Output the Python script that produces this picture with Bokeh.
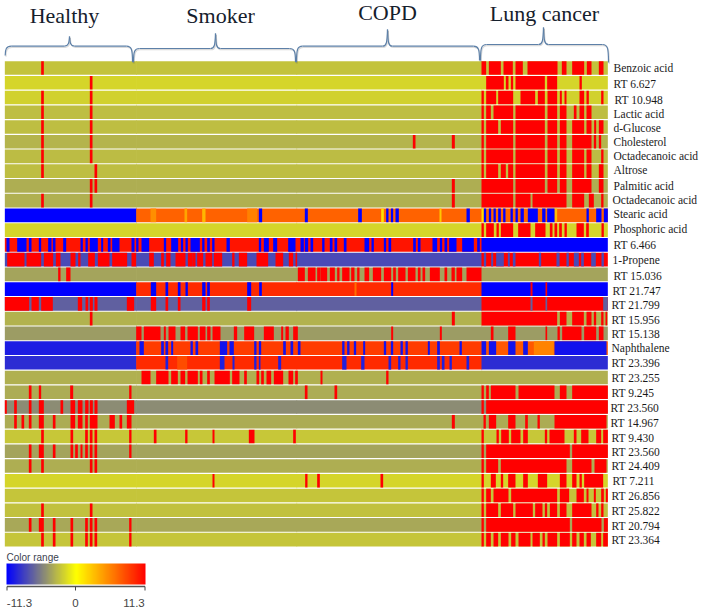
from bokeh.plotting import figure
from bokeh.models import (ColumnDataSource, LinearColorMapper, ColorBar, FixedTicker, Range1d)
from bokeh.embed import file_html
from bokeh.resources import INLINE
from bokeh.core.properties import value

# ---------- data ----------
row_labels = ["Benzoic acid","RT 6.627","RT 10.948","Lactic acid","d-Glucose","Cholesterol",
 "Octadecanoic acid","Altrose","Palmitic acid","Octadecanoic acid","Stearic acid","Phosphoric acid",
 "RT 6.466","1-Propene","RT 15.036","RT 21.747","RT 21.799","RT 15.956","RT 15.138","Naphthalene",
 "RT 23.396","RT 23.255","RT 9.245","RT 23.560","RT 14.967","RT 9.430","RT 23.560","RT 24.409",
 "RT 7.211","RT 26.856","RT 25.822","RT 20.794","RT 23.364"]
group_names = ["Healthy","Smoker","COPD","Lung cancer"]
# group limits along the sample axis
group_edges = [13, 407, 888, 1443, 1822]
# level of each row in each group
row_base = [[-2.6]*4,[-1.8]*4,[-2.0]*4,[-2.9]*4,[-2.9]*4,[-3.3]*4,[-3.0]*4,[-2.9]*4,[-3.6]*4,[-3.5]*4,
 [-11.3,7.0,7.0,7.0],[-1.8]*4,[10.5,10.5,10.5,-11.3],[-8,-8,-8,11.3],[-4.0]*4,
 [-11.3,9.5,9.5,-11.3],[-7,-7,-7,11.3],[-3.4]*4,[-4.4]*4,[-10,8.7,8.7,7.5],
 [-9.3,9.5,9.5,-9.3],[-3.5]*4,[-3.7]*4,[-5.1]*4,[-3.7]*4,[-2.4]*4,[-4.0]*4,[-3.6]*4,[-1.8]*4,
 [-2.5]*4,[-2.7]*4,[-3.8]*4,[-2.5]*4]
# saturated runs, samples on the left half of the axis
hot_a = {0:[(122,130)],1:[(268,276)],2:[(122,130),(268,276)],3:[(122,130),(268,276)],
 4:[(122,130),(268,276)],5:[(122,130),(268,276)],6:[(122,130),(268,276)],7:[(122,130),(282,290)],
 8:[(268,276),(282,290)],9:[(122,130),(268,276)],
 13:[(20,72),(78,122),(130,158),(166,180),(210,225),(233,240),(263,283),(292,327),(335,380),(393,407),
     (446,460),(482,490),(497,510),(525,555),(562,575),(575,585),(590,608),(615,635),(640,665),(695,702),
     (715,740),(768,803),(825,848),(865,878),(885,890)],
 14:[(173,180),(197,210),(892,913),(922,945),(950,960)],
 16:[(13,86),(93,115),(122,157),(232,245),(255,263),(268,277),(282,291),(379,401),(451,467),(495,503),
     (532,540),(605,615),(620,628),(740,752)],
 17:[(268,276)],
 18:[(407,423),(430,480),(490,496),(504,525),(540,554),(561,592),(598,615),(620,630),(636,660),(700,710),
     (731,761),(790,820),(842,848),(855,865),(878,892)],
 21:[(423,450),(467,504),(512,532),(540,554),(561,592),(598,606),(620,628),(642,688),(695,717),(731,739),
     (768,776),(782,790),(798,812),(820,848),(864,878),(884,892)],
 22:[(85,93),(115,122),(209,218),(386,393),(913,921)],
 23:[(13,19),(41,49),(85,93),(115,130),(180,188),(210,224),(232,246),(254,264),(268,277),(282,291),(379,401)],
 24:[(41,49),(63,71),(85,93),(115,130),(157,165),(210,224),(232,246),(254,262),(268,291),(327,343),(357,365),(379,393)],
 25:[(122,130),(210,218),(254,262),(268,276),(282,290),(386,393),(460,468),(554,561),(636,642),(745,762),(878,886)],
 26:[(85,93),(115,130),(157,165),(210,218),(224,232),(240,246),(254,262),(268,276),(282,290),(386,393)],
 27:[(85,93),(122,130),(268,276),(282,290)],
 28:[(636,642),(914,921),(950,958)],
 30:[(122,130),(268,276)],
 31:[(85,93),(115,130),(157,165),(210,218),(254,262),(268,276),(282,290),(386,393)],
 32:[(122,130),(157,165),(210,218),(254,262),(268,276),(282,290),(386,393)]}
# saturated runs, samples on the right half of the axis (counted from its middle)
axis_middle = 960
hot_b = {0:[(483,497),(505,541),(549,577),(585,607),(621,711),(724,738),(755,791),(799,813),(835,849)],
 1:[(497,550),(556,564),(571,578),(585,673),(680,710),(777,784)],
 2:[(483,490),(497,527),(533,578),(600,644),(652,673),(681,710),(718,724),(732,738),(777,791),(798,805),(842,849)],
 3:[(483,490),(497,511),(519,578),(585,673),(681,710),(718,738),(760,768),(777,791),(798,813)],
 4:[(483,490),(497,533),(541,578),(585,673),(681,710),(718,738),(755,791),(798,813),(821,827),(835,849)],
 5:[(277,285),(394,403),(483,490),(497,578),(585,673),(681,710),(718,738),(755,813),(820,827),(835,842)],
 6:[(483,490),(497,578),(585,673),(681,710),(718,738),(755,791),(798,813),(842,849)],
 7:[(483,490),(497,533),(541,556),(563,578),(585,673),(681,710),(718,738),(755,791),(798,813),(835,849)],
 8:[(394,403),(483,578),(585,673),(681,710),(718,738),(755,813),(835,849)],
 9:[(394,403),(483,578),(585,630),(636,738),(755,791),(805,820),(842,849)],
 11:[(483,490),(497,520),(528,535),(541,578),(593,630),(644,675),(688,696),(702,710),(716,724),(732,739),(768,790),(797,805),(843,850)],
 14:[(0,20),(28,43),(50,57),(65,87),(92,102),(110,117),(132,146),(157,182),(190,212),(218,226),(233,255),(262,285),
     (292,300),(306,314),(328,358),(372,380),(393,403),(408,425),(438,483)],
 15:[(630,636),(675,680)],
 17:[(394,403),(483,710),(718,738),(755,790),(798,813),(820,827),(842,849),(855,860)],
 18:[(212,218),(358,364),(511,519),(563,585),(675,680),(711,718),(725,783),(791,827),(835,849)],
 21:[(0,6),(197,204)],
 22:[(42,50),(483,490),(497,505),(511,585),(594,702),(718,738),(755,862)],
 23:[(483,490),(497,862)],
 24:[(394,403),(489,496),(505,527),(563,585),(614,622),(651,658),(702,858)],
 25:[(483,490),(528,535),(542,565),(572,600),(608,622),(673,680),(687,732),(760,768),(782,804),(827,842),(848,862)],
 26:[(483,490),(497,748),(755,862)],
 27:[(483,490),(497,533),(541,738),(755,813),(822,858)],
 28:[(180,188),(483,490),(511,526),(541,548),(563,585),(608,622),(652,680),(718,738),(755,768),(777,784),(791,848)],
 29:[(483,490),(497,511),(519,564),(572,710),(718,746),(768,790),(798,804),(820,826),(842,850),(856,862)],
 30:[(483,490),(497,533),(541,578),(585,637),(644,666),(673,680),(688,710),(718,738),(755,813),(827,834),(842,849)],
 31:[(483,490),(497,748),(755,843),(850,862)],
 32:[(483,490),(497,511),(519,533),(541,564),(572,585),(594,630),(636,658),(666,673),(681,710),(718,748),(755,768),(777,790),(798,811),(827,842),(848,862)]}
# low runs, with the level of each row's runs
cold_level = {10:-11.3,12:-11.3,13:-8,15:-11.3,16:-7,19:-10.5,20:-9.8}
cold_a = {10:[(775,785),(913,922)],
 12:[(18,27),(50,78),(85,93),(115,122),(143,153),(157,165),(188,197),(240,247),(255,262),(268,292),(302,308),(322,330),
     (335,357),(393,402),(407,414),(423,446),(490,497),(512,533),(541,548),(555,562),(570,598),(605,612),(620,628),(635,642),
     (678,688),(775,782),(790,805),(818,830),(863,885),(900,910),(913,923),(930,938)],
 15:[(451,467),(495,503),(532,540),(555,562),(605,615),(620,628),(740,752),(776,784)],
 19:[(417,430),(482,490),(495,503),(512,518),(570,577),(585,593),(658,680),(687,700),(761,768),(775,782),(848,856),(870,878),(892,900)],
 20:[(495,503),(658,672),(696,702),(761,768),(775,780),(833,842)]}
cold_b = {10:[(113,124),(197,204),(211,218),(225,235),(438,448),(490,497),(505,512),(519,526),(533,541),(548,555),(570,577),
     (585,592),(600,610),(622,652),(665,675),(680,702),(798,805),(827,843),(850,862)],
 12:[(5,12),(28,36),(42,50),(70,78),(132,146),(153,160),(190,197),(204,212),(278,286),(292,300),(336,350),(358,365),(372,380),
     (386,408),(425,460),(470,478)],
 13:[(490,497),(512,518),(527,550),(562,568),(577,585),(655,662),(708,717),(738,745),(760,775),(782,790),(812,826),(843,850)],
 15:[(212,218)],
 16:[(630,636),(675,680),(848,862)],
 19:[(65,72),(80,87),(100,107),(128,134),(190,197),(211,218),(240,247),(255,262),(322,328),(350,358),(417,424),
     (483,497),(505,527),(563,585),(608,622),(702,858)],
 20:[(65,78),(122,132),(204,212),(233,240),(255,262),(350,358),(364,372),(387,394),(438,446)]}
# lighter stripes: row, from, to, level
warm_stripes = [(10,450,467,5.0),(10,552,560,4.0),(10,605,615,3.2),(10,740,770,5.6),
 (10,1142,1150,1.5),(10,1317,1323,2.5),(10,1443,1450,1.5),(10,1662,1670,3.0),
 (15,1062,1068,6.5),(19,1600,1660,5.5),(20,530,560,8.0)]
cbar_labels = ["-11.3", "0", "11.3"]
# where each row's label sits
label_x_px = [613,613,614,613,613,613,613,613,613,612,613,613,613,612,613,612,611,611,611,611,611,611,611,610,610,611,611,611,612,611,611,611,611]
label_y_px = [67,83.7,99.5,113.6,127,141.5,155,169,185.5,199,213,228,244,259,275,290,304.6,319.6,333,347,362,377,392,407,422,437,451,465,480,495,510,525,539]

# ---------- scale ----------
anchors = [(0,0,255,64),(128,128,128,64),(255,255,0,128),(255,0,0,0)]
palette = []
for k in range(3):
    a, b = anchors[k], anchors[k+1]
    n = a[3]
    for j in range(n):
        t = j/n
        palette.append("#%02x%02x%02x" % tuple(int(round(a[c]+(b[c]-a[c])*t)) for c in range(3)))
palette[-1] = "#ff0000"
mapper = LinearColorMapper(palette=palette, low=-11.3, high=11.3)

# ---------- geometry of the page ----------
W, H = 703, 610
ROW_PX, ROW0_PX = 14.74, 67.5
def ypx(px):
    return (px-ROW0_PX)/ROW_PX
def xpx(px):
    return px*3.0

p = figure(width=W, height=H, output_backend="svg", toolbar_location=None,
           x_range=Range1d(0, W*3), y_range=Range1d(ypx(H), ypx(0)),
           min_border_left=0, min_border_right=0, min_border_top=0, min_border_bottom=0,
           outline_line_color=None, x_axis_type=None, y_axis_type=None)
p.grid.visible = False
p.background_fill_color = "white"
p.border_fill_color = "white"

left, right, row, val = [], [], [], []
def add(r, a, b, v):
    left.append(a); right.append(b); row.append(r); val.append(v)
for r, bases in enumerate(row_base):
    for g in range(4):
        # a sliver of overlap keeps the joint between groups from showing
        add(r, group_edges[g], group_edges[g+1] + (2 if g < 3 else 0), bases[g])
for r, a, b, v in warm_stripes:
    add(r, a, b, v)
for r, runs in cold_a.items():
    for a, b in runs:
        add(r, a, b, cold_level[r])
for r, runs in cold_b.items():
    for a, b in runs:
        add(r, a+axis_middle, b+axis_middle, cold_level[r])
for r, runs in hot_a.items():
    for a, b in runs:
        add(r, a, b, 11.3)
for r, runs in hot_b.items():
    for a, b in runs:
        add(r, a+axis_middle, b+axis_middle, 11.3)

h = 0.925
src = ColumnDataSource(dict(left=left, right=right, top=[q-h/2 for q in row],
                            bottom=[q+h/2 for q in row], v=val))
p.quad(left="left", right="right", top="top", bottom="bottom", source=src,
       fill_color={"field": "v", "transform": mapper}, line_color=None)

# row labels
p.text(x=[xpx(v) for v in label_x_px], y=[ypx(v) for v in label_y_px], text=row_labels,
       text_font=value("Liberation Serif"), text_font_size="11.5px", text_align="left",
       text_baseline="middle", text_color="#1a1a1a")

# group braces
brace_geom = [  # x-left, y-left, x-right, y-right, y-line, x-tip, y-tip, label x, label y
 (4.7,55,132,61.7,45.7,69,36,64,15),
 (133,61.7,295,61.7,48,215,33,220,15),
 (296,61.7,479,60,45.7,387,29,387,12),
 (480,60,608,62,44,543,27,544,12.5)]
BR = "#5d80a8"
for dx, dy, col, alpha in [(0.8,1.2,"#555555",0.22),(0,0,BR,1)]:
    segx0, segy0, segx1, segy1 = [], [], [], []
    bz = {k: [] for k in ["x0","y0","x1","y1","cx0","cy0","cx1","cy1"]}
    def curve(a, b, c, d):
        bz["x0"].append(xpx(a[0]+dx)); bz["y0"].append(ypx(a[1]+dy))
        bz["cx0"].append(xpx(b[0]+dx)); bz["cy0"].append(ypx(b[1]+dy))
        bz["cx1"].append(xpx(c[0]+dx)); bz["cy1"].append(ypx(c[1]+dy))
        bz["x1"].append(xpx(d[0]+dx)); bz["y1"].append(ypx(d[1]+dy))
    for xl, yl, xr, yr, yc, xm, yt, _, _ in brace_geom:
        curve((xl,yl),(xl,yc+3),(xl+1,yc),(xl+6,yc))
        curve((xr,yr),(xr,yc+3),(xr-1,yc),(xr-6,yc))
        curve((xm-5,yc),(xm-1,yc),(xm-0.5,yc-3),(xm,yt))
        curve((xm+5,yc),(xm+1,yc),(xm+0.5,yc-3),(xm,yt))
        for a, b in [(xl+6,xm-5),(xm+5,xr-6)]:
            segx0.append(xpx(a+dx)); segx1.append(xpx(b+dx))
            segy0.append(ypx(yc+dy)); segy1.append(ypx(yc+dy))
    p.bezier(source=ColumnDataSource(bz), x0="x0", y0="y0", x1="x1", y1="y1",
             cx0="cx0", cy0="cy0", cx1="cx1", cy1="cy1", line_color=col, line_width=1.2, line_alpha=alpha)
    p.segment(segx0, segy0, segx1, segy1, line_color=col, line_width=1.2, line_alpha=alpha)

p.text(x=[xpx(g[7]) for g in brace_geom], y=[ypx(g[8]) for g in brace_geom], text=group_names,
       text_font=value("Liberation Serif"), text_font_size="22px", text_align="center",
       text_baseline="middle", text_color="#15202c")

# colour range legend
bar = ColorBar(color_mapper=mapper, orientation="horizontal", location=(6, H-584), width=139, height=21, padding=0,
               ticker=FixedTicker(ticks=[]), major_tick_line_color=None, minor_tick_line_color=None,
               background_fill_alpha=0, border_line_color=None, bar_line_color=None,
               major_label_text_font_size="0px")
p.add_layout(bar)
bx0, bx1, tick_x = xpx(6.5), xpx(144.5), [xpx(6.5), xpx(75), xpx(144.5)]
p.segment([bx0], [ypx(586)], [bx1], [ypx(586)], line_color="#555555", line_width=1.5)
p.segment(tick_x, [ypx(586)]*3, tick_x, [ypx(590)]*3, line_color="#444444", line_width=1)
p.text(x=[xpx(6)], y=[ypx(557)], text=["Color range"], text_font=value("Liberation Sans"),
       text_font_size="10px", text_align="left", text_baseline="middle", text_color="#3c4250")
p.text(x=[xpx(6), xpx(75), xpx(144.5)], y=[ypx(602)]*3, text=cbar_labels, text_font=value("Liberation Sans"),
       text_font_size="11.5px", text_align="center",
       text_baseline="middle", text_color="#444444", x_offset=[13, 0, -11])

open("out.html", "w").write(file_html(p, INLINE))
